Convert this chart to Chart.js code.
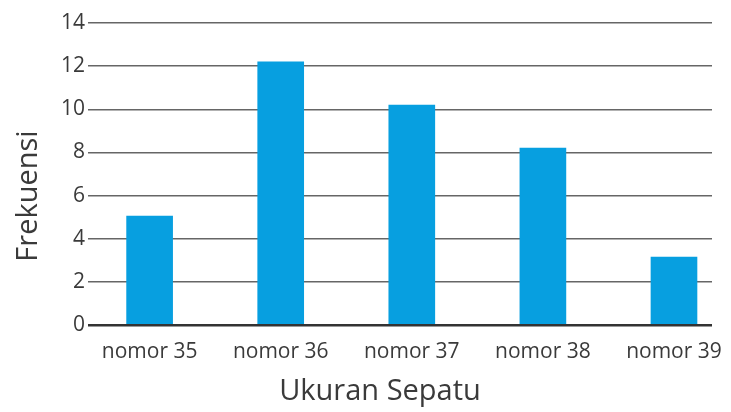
<!DOCTYPE html>
<html>
<head>
<meta charset="utf-8">
<script src="https://cdn.jsdelivr.net/npm/chart.js@4"></script>
<style>
  html, body { margin: 0; padding: 0; background: #fff; }
  #wrap { width: 731px; height: 412px; }
</style>
</head>
<body>
<div id="wrap"><canvas id="myChart" width="731" height="412"></canvas></div>
<script>
const categories = ['nomor 35', 'nomor 36', 'nomor 37', 'nomor 38', 'nomor 39'];
const frekuensi = [5.05, 12.2, 10.2, 8.2, 3.15];
const yTicks = [0, 2, 4, 6, 8, 10, 12, 14];
const xTitle = 'Ukuran Sepatu';
const yTitle = 'Frekuensi';

const fontFamily = '"Open Sans", "Noto Sans", sans-serif';
const textColor = '#3a3a3a';

// axis titles placed like the picture (off-centre from the plot)
const titlePlugin = {
  id: 'titles',
  afterDraw(chart) {
    const ctx = chart.ctx;
    ctx.save();
    ctx.fillStyle = textColor;
    ctx.font = '29px ' + fontFamily;
    ctx.textAlign = 'center';
    ctx.textBaseline = 'alphabetic';
    ctx.fillText(xTitle, 380, 400);
    ctx.translate(37, 196);
    ctx.rotate(-Math.PI / 2);
    ctx.fillText(yTitle, 0, 0);
    ctx.restore();
  }
};

const points = frekuensi.map((v, i) => ({ x: i, y: v }));

var ctx = document.getElementById('myChart').getContext('2d');
var myChart = new Chart(ctx, {
  type: 'bar',
  data: {
    datasets: [{
      data: points,
      backgroundColor: '#079fe0',
      borderWidth: 0,
      barThickness: 46
    }]
  },
  options: {
    responsive: false,
    animation: false,
    layout: { padding: { top: 23, right: 19, left: 0, bottom: 0 } },
    plugins: { legend: { display: false }, tooltip: { enabled: false } },
    scales: {
      x: {
        type: 'linear',
        offset: false,
        min: -0.47,
        max: 4.29,
        grid: { display: false },
        border: { display: false },
        afterFit: s => { s.height = 87; },
        ticks: {
          stepSize: 1,
          includeBounds: false,
          autoSkip: false,
          maxRotation: 0,
          padding: 6,
          color: textColor,
          font: { family: fontFamily, size: 21 },
          callback: v => (Number.isInteger(v) ? categories[v] : '')
        }
      },
      y: {
        min: 0,
        max: 14,
        afterFit: s => { s.width = 88; },
        afterBuildTicks: s => { s.ticks = yTicks.map(v => ({ value: v })); },
        border: { display: false },
        grid: {
          drawTicks: false,
          color: c => (c.tick && c.tick.value === 0 ? '#333' : '#666'),
          lineWidth: c => (c.tick && c.tick.value === 0 ? 2.5 : 1.5)
        },
        ticks: {
          padding: 3,
          color: textColor,
          font: { family: fontFamily, size: 21 }
        }
      }
    }
  },
  plugins: [titlePlugin]
});
</script>
</body>
</html>
